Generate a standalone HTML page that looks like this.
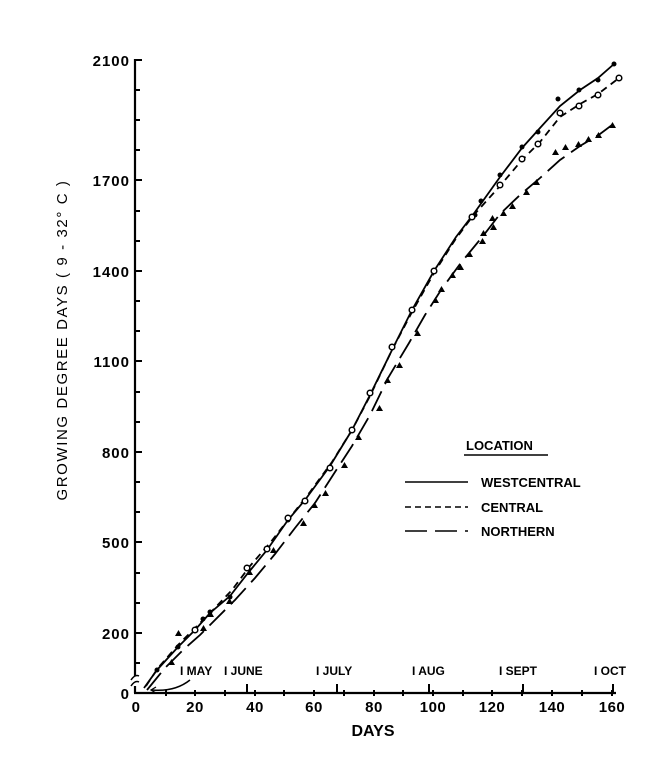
<!DOCTYPE html>
<html><head><meta charset="utf-8"><style>
body{margin:0;background:#fff;}
svg text{font-family:"Liberation Sans",sans-serif;fill:#000;}
</style></head><body>
<svg width="666" height="768" viewBox="0 0 666 768" xmlns="http://www.w3.org/2000/svg">
<g stroke="#000" stroke-width="2.2" fill="none">
<!-- y axis -->
<line x1="135" y1="59" x2="135" y2="676"/>
<line x1="135" y1="686" x2="135" y2="693"/>
<path d="M131,680 q4,-6 8,-4 M131,686 q4,-6 8,-4" stroke-width="1.5"/>
<line x1="134" y1="693" x2="616" y2="693"/>
</g>
<g stroke="#000" stroke-width="2">
<line x1="135" y1="60" x2="142" y2="60"/>
<line x1="135" y1="90" x2="140" y2="90"/><line x1="135" y1="120" x2="140" y2="120"/><line x1="135" y1="150" x2="140" y2="150"/>
<line x1="135" y1="180" x2="142" y2="180"/>
<line x1="135" y1="211" x2="140" y2="211"/><line x1="135" y1="241" x2="140" y2="241"/>
<line x1="135" y1="271" x2="142" y2="271"/>
<line x1="135" y1="301" x2="140" y2="301"/><line x1="135" y1="331" x2="140" y2="331"/>
<line x1="135" y1="361" x2="142" y2="361"/>
<line x1="135" y1="392" x2="140" y2="392"/><line x1="135" y1="422" x2="140" y2="422"/>
<line x1="135" y1="452" x2="142" y2="452"/>
<line x1="135" y1="482" x2="140" y2="482"/><line x1="135" y1="512" x2="140" y2="512"/>
<line x1="135" y1="542" x2="142" y2="542"/>
<line x1="135" y1="573" x2="140" y2="573"/><line x1="135" y1="603" x2="140" y2="603"/>
<line x1="135" y1="633" x2="142" y2="633"/>
<line x1="135" y1="663" x2="140" y2="663"/>
<!-- x ticks -->
<g>
<line x1="166" y1="690" x2="166" y2="696"/><line x1="195" y1="690" x2="195" y2="696"/><line x1="225" y1="690" x2="225" y2="696"/><line x1="255" y1="690" x2="255" y2="696"/><line x1="284" y1="690" x2="284" y2="696"/><line x1="314" y1="690" x2="314" y2="696"/><line x1="344" y1="690" x2="344" y2="696"/><line x1="374" y1="690" x2="374" y2="696"/><line x1="403" y1="690" x2="403" y2="696"/><line x1="433" y1="690" x2="433" y2="696"/><line x1="463" y1="690" x2="463" y2="696"/><line x1="492" y1="690" x2="492" y2="696"/><line x1="522" y1="690" x2="522" y2="696"/><line x1="552" y1="690" x2="552" y2="696"/><line x1="582" y1="690" x2="582" y2="696"/><line x1="612" y1="690" x2="612" y2="696"/>
</g>
<!-- month ticks -->
<line x1="247" y1="684" x2="247" y2="693"/><line x1="337" y1="684" x2="337" y2="693"/><line x1="429" y1="684" x2="429" y2="693"/><line x1="523" y1="684" x2="523" y2="693"/><line x1="613" y1="684" x2="613" y2="693"/>
</g>
<g font-size="15" font-weight="bold" text-anchor="end" letter-spacing="1">
<text x="130" y="66">2100</text><text x="130" y="186">1700</text><text x="130" y="277">1400</text><text x="130" y="367">1100</text><text x="130" y="458">800</text><text x="130" y="548">500</text><text x="130" y="639">200</text><text x="130" y="699">0</text>
</g>
<g font-size="15" font-weight="bold" text-anchor="middle" letter-spacing="0.5">
<text x="136" y="712">0</text><text x="195" y="712">20</text><text x="255" y="712">40</text><text x="314" y="712">60</text><text x="374" y="712">80</text><text x="433" y="712">100</text><text x="492" y="712">120</text><text x="552" y="712">140</text><text x="612" y="712">160</text>
</g>
<text x="373" y="736" font-size="16" font-weight="bold" text-anchor="middle">DAYS</text>
<text transform="translate(67,340) rotate(-90)" font-size="15" text-anchor="middle" letter-spacing="1.6">GROWING DEGREE DAYS ( 9 - 32° C )</text>
<g font-size="12" font-weight="bold">
<text x="180" y="675">I MAY</text><text x="224" y="675">I JUNE</text><text x="316" y="675">I JULY</text><text x="412" y="675">I AUG</text><text x="499" y="675">I SEPT</text><text x="594" y="675">I OCT</text>
</g>
<path d="M190,680 Q175,692 152,690" stroke="#000" stroke-width="1.5" fill="none"/>
<path d="M156,687 L151,690 L156,693" stroke="#000" stroke-width="1.3" fill="none"/>
<!-- legend -->
<text x="466" y="450" font-size="13" font-weight="bold">LOCATION</text>
<line x1="464" y1="455" x2="548" y2="455" stroke="#000" stroke-width="1.5"/>
<g font-size="13" font-weight="bold"><text x="481" y="487">WESTCENTRAL</text><text x="481" y="512">CENTRAL</text><text x="481" y="536">NORTHERN</text></g>
<line x1="405" y1="482" x2="468" y2="482" stroke="#000" stroke-width="1.5"/>
<line x1="405" y1="507" x2="468" y2="507" stroke="#000" stroke-width="1.5" stroke-dasharray="6,4"/>
<line x1="405" y1="531" x2="468" y2="531" stroke="#000" stroke-width="1.5" stroke-dasharray="22,8"/>
<!-- curves -->
<g fill="none" stroke="#000" stroke-width="1.8">
<polyline points="144,688 157,670 178,647 195,630 210,613 230,596 248,573 267,550 288,520 305,500 330,466 352,430 370,395 393,348 412,310 434,271 456,237 475,212 500,177 522,148 540,128 560,106 580,90 598,78 614,64"/>
<polyline stroke-dasharray="7,5" points="146,686 158,668 178,645 195,628 212,611 232,590 250,566 270,543 292,515 310,492 332,462 352,430 370,396 392,350 412,312 434,273 455,240 472,217 500,186 522,160 540,142 560,117 580,104 598,94 619,78"/>
<polyline stroke-dasharray="22,8" points="147,690 165,668 183,650 200,635 215,620 235,600 255,578 275,554 295,528 315,503 335,472 352,446 370,415 388,378 409,343 425,315 441,290 460,264 483,236 500,214 520,195 540,178 560,160 580,146 600,134 612,125"/>
</g>
<!-- westcentral dots -->
<g fill="#000">
<circle cx="157" cy="670" r="2.5"/><circle cx="178" cy="647" r="2.5"/><circle cx="203" cy="619" r="2.5"/><circle cx="210" cy="612" r="2.5"/><circle cx="230" cy="597" r="2.5"/><circle cx="288" cy="520" r="2.5"/><circle cx="352" cy="430" r="2.5"/><circle cx="475" cy="215" r="2.5"/><circle cx="481" cy="201" r="2.5"/><circle cx="500" cy="175" r="2.5"/><circle cx="522" cy="147" r="2.5"/><circle cx="538" cy="132" r="2.5"/><circle cx="558" cy="99" r="2.5"/><circle cx="579" cy="90" r="2.5"/><circle cx="598" cy="80" r="2.5"/><circle cx="614" cy="64" r="2.5"/>
</g>
<!-- central circles -->
<g fill="#fff" stroke="#000" stroke-width="1.5">
<circle cx="195" cy="630" r="2.8"/><circle cx="247" cy="568" r="2.8"/><circle cx="267" cy="549" r="2.8"/><circle cx="288" cy="518" r="2.8"/><circle cx="305" cy="501" r="2.8"/><circle cx="330" cy="468" r="2.8"/><circle cx="352" cy="430" r="2.8"/><circle cx="370" cy="393" r="2.8"/><circle cx="392" cy="347" r="2.8"/><circle cx="412" cy="310" r="2.8"/><circle cx="434" cy="271" r="2.8"/><circle cx="472" cy="217" r="2.8"/><circle cx="500" cy="185" r="2.8"/><circle cx="522" cy="159" r="2.8"/><circle cx="538" cy="144" r="2.8"/><circle cx="560" cy="113" r="2.8"/><circle cx="579" cy="106" r="2.8"/><circle cx="598" cy="95" r="2.8"/><circle cx="619" cy="78" r="2.8"/>
</g>
<!-- northern triangles -->
<g fill="#000">
<path d="M175,636 l3.5,-6 l3.5,6z"/><path d="M200,631 l3.5,-6 l3.5,6z"/><path d="M168,665 l3.5,-6 l3.5,6z"/><path d="M207,617 l3.5,-6 l3.5,6z"/><path d="M226,604 l3.5,-6 l3.5,6z"/><path d="M246,575 l3.5,-6 l3.5,6z"/><path d="M270,553 l3.5,-6 l3.5,6z"/><path d="M300,526 l3.5,-6 l3.5,6z"/><path d="M311,508 l3.5,-6 l3.5,6z"/><path d="M322,496 l3.5,-6 l3.5,6z"/><path d="M341,468 l3.5,-6 l3.5,6z"/><path d="M355,440 l3.5,-6 l3.5,6z"/><path d="M376,411 l3.5,-6 l3.5,6z"/><path d="M384,383 l3.5,-6 l3.5,6z"/><path d="M396,368 l3.5,-6 l3.5,6z"/><path d="M414,336 l3.5,-6 l3.5,6z"/><path d="M432,303 l3.5,-6 l3.5,6z"/><path d="M438,292 l3.5,-6 l3.5,6z"/><path d="M449,278 l3.5,-6 l3.5,6z"/><path d="M457,270 l3.5,-6 l3.5,6z"/><path d="M466,257 l3.5,-6 l3.5,6z"/><path d="M480,236 l3.5,-6 l3.5,6z"/><path d="M489,221 l3.5,-6 l3.5,6z"/><path d="M479,244 l3.5,-6 l3.5,6z"/><path d="M490,230 l3.5,-6 l3.5,6z"/><path d="M500,216 l3.5,-6 l3.5,6z"/><path d="M509,209 l3.5,-6 l3.5,6z"/><path d="M523,195 l3.5,-6 l3.5,6z"/><path d="M533,185 l3.5,-6 l3.5,6z"/><path d="M552,155 l3.5,-6 l3.5,6z"/><path d="M562,150 l3.5,-6 l3.5,6z"/><path d="M575,147 l3.5,-6 l3.5,6z"/><path d="M585,142 l3.5,-6 l3.5,6z"/><path d="M595,138 l3.5,-6 l3.5,6z"/><path d="M609,128 l3.5,-6 l3.5,6z"/>
</g>
</svg>
</body></html>
